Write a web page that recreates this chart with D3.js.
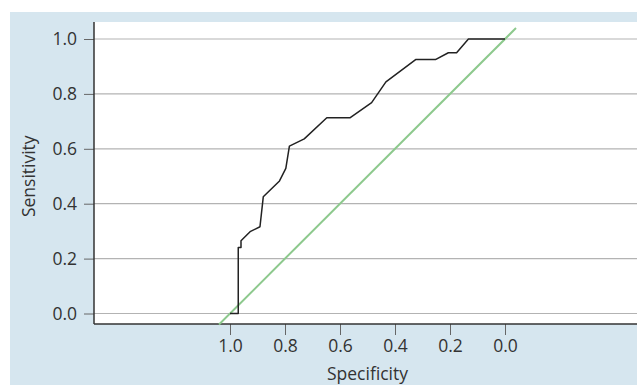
<!DOCTYPE html>
<html>
<head>
<meta charset="utf-8">
<script src="https://cdn.jsdelivr.net/npm/d3@7"></script>
<style>
  body { margin: 0; background: #fff; }
  text { font-family: "Open Sans", "Noto Sans", sans-serif; fill: #333; }
</style>
</head>
<body>
<div id="chart"></div>
<script>
// ROC curve points
const specificity = [1.0, 0.97, 0.97, 0.96, 0.96, 0.927, 0.891, 0.879, 0.82, 0.797, 0.784, 0.73, 0.648, 0.564, 0.485, 0.433, 0.325, 0.253, 0.206, 0.176, 0.133, 0.0];
const sensitivity = [0.0, 0.0, 0.24, 0.24, 0.265, 0.298, 0.316, 0.425, 0.483, 0.529, 0.61, 0.636, 0.713, 0.713, 0.768, 0.844, 0.925, 0.925, 0.95, 0.95, 1.0, 1.0];

// reference diagonal, runs a little past both ends
const diagSpec = [1.04, -0.04];
const diagSens = [-0.04, 1.04];

const tickValues = [0, 0.2, 0.4, 0.6, 0.8, 1.0];

const width = 637, height = 385;
const fontSize = 17.5;
const svg = d3.select("#chart").append("svg")
  .attr("width", width)
  .attr("height", height);

// background panel and white plot area
svg.append("rect")
  .attr("x", 10).attr("y", 12)
  .attr("width", width - 10).attr("height", height - 12)
  .attr("fill", "#d6e6ef");

const plotLeft = 94, plotTop = 22, plotBottom = 324;
svg.append("rect")
  .attr("x", plotLeft).attr("y", plotTop)
  .attr("width", width - plotLeft).attr("height", plotBottom - plotTop)
  .attr("fill", "#fff");

const x = d3.scaleLinear().domain([1, 0]).range([230, 505]);
const y = d3.scaleLinear().domain([0, 1]).range([313.5, 39]);

// grid lines
svg.append("g")
  .selectAll("line")
  .data(tickValues)
  .enter()
  .append("line")
  .attr("x1", plotLeft)
  .attr("x2", width)
  .attr("y1", (d) => y(d))
  .attr("y2", (d) => y(d))
  .attr("stroke", "#b3b3b3")
  .attr("stroke-width", 1.2);

// y axis
const yAxis = svg.append("g")
  .attr("transform", `translate(${plotLeft},0)`)
  .call(d3.axisLeft(y).tickValues(tickValues).tickSize(10).tickPadding(7).tickFormat(d3.format(".1f")));
yAxis.select(".domain").remove();
yAxis.selectAll(".tick line").attr("stroke", "#666");
yAxis.selectAll(".tick text").attr("font-size", fontSize).attr("fill", "#333")
  .attr("font-family", '"Open Sans", "Noto Sans", sans-serif');

// x axis
const xAxis = svg.append("g")
  .attr("transform", `translate(0,${plotBottom})`)
  .call(d3.axisBottom(x).tickValues(tickValues).tickSize(11).tickPadding(5).tickFormat(d3.format(".1f")));
xAxis.select(".domain").remove();
xAxis.selectAll(".tick line").attr("stroke", "#666");
xAxis.selectAll(".tick text").attr("font-size", fontSize).attr("fill", "#333")
  .attr("font-family", '"Open Sans", "Noto Sans", sans-serif');

// axis lines
svg.append("line")
  .attr("x1", plotLeft).attr("x2", plotLeft)
  .attr("y1", plotTop).attr("y2", plotBottom)
  .attr("stroke", "#333").attr("stroke-width", 1.5);
svg.append("line")
  .attr("x1", plotLeft).attr("x2", width)
  .attr("y1", plotBottom).attr("y2", plotBottom)
  .attr("stroke", "#333").attr("stroke-width", 1.5);

// diagonal
const diag = diagSpec.map((s, i) => [s, diagSens[i]]);
svg.append("path")
  .datum(diag)
  .attr("fill", "none")
  .attr("stroke", "#8dc98d")
  .attr("stroke-width", 2)
  .attr("d", d3.line().x((d) => x(d[0])).y((d) => y(d[1])));

// ROC curve
const roc = specificity.map((s, i) => [s, sensitivity[i]]);
svg.append("path")
  .datum(roc)
  .attr("fill", "none")
  .attr("stroke", "#222")
  .attr("stroke-width", 1.5)
  .attr("stroke-linejoin", "round")
  .attr("d", d3.line().x((d) => x(d[0])).y((d) => y(d[1])));

// axis titles
svg.append("text")
  .attr("x", x(0.5))
  .attr("y", 380)
  .attr("text-anchor", "middle")
  .attr("font-size", fontSize)
  .text("Specificity");

svg.append("text")
  .attr("transform", `translate(35,${y(0.5)}) rotate(-90)`)
  .attr("text-anchor", "middle")
  .attr("font-size", fontSize)
  .text("Sensitivity");
</script>
</body>
</html>
